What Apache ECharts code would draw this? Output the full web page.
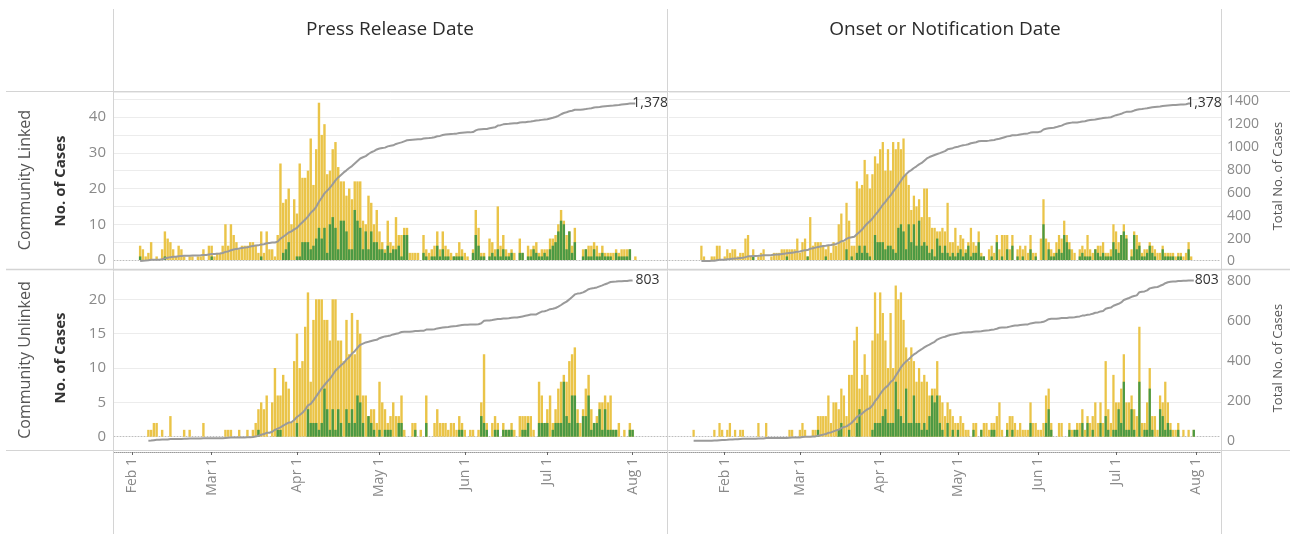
<!DOCTYPE html>
<html>
<head>
<meta charset="utf-8">
<script src="https://cdn.jsdelivr.net/npm/echarts@6/dist/echarts.min.js"></script>
<style>html,body{margin:0;padding:0;background:#fff}#chart{width:1290px;height:534px}</style>
</head>
<body>
<div id="chart"></div>
<script>
// ---------- text ----------
const COLUMN_TITLES = ['Press Release Date', 'Onset or Notification Date'];
const ROW_TITLES = ['Community Linked', 'Community Unlinked'];
const LEFT_AXIS_TITLE = 'No. of Cases';
const RIGHT_AXIS_TITLE = 'Total No. of Cases';
const TOTAL_LABELS = ['1,378', '803'];
const MONTHS = ['Jan', 'Feb', 'Mar', 'Apr', 'May', 'Jun', 'Jul', 'Aug', 'Sep', 'Oct', 'Nov', 'Dec'];

// ---------- date axes (first / last day shown on each column's axis) ----------
const PRESS_AXIS_RANGE = ['2020-01-26', '2020-08-13'];
const ONSET_AXIS_RANGE = ['2020-01-11', '2020-08-10'];

// ---------- Community Linked, by press release date (daily cases, first day 2020-02-04) ----------
const LINKED_PRESS_START = '2020-02-04';
const LINKED_PRESS_ALL = [
  4,3,1,2,5,0,1,0,3,8, 6,5,3,1,4,3,1,0,1,1, 0,1,1,3,0,4,4,1,2,2, 4,10,4,10,7,5,3,4,4,4,
  5,5,4,2,8,2,8,3,3,1, 7,27,16,17,20,10,17,13,27,23, 23,25,34,21,31,44,35,38,24,25,
  31,33,26,22,22,18,20,17,22,22, 22,11,10,18,16,10,14,8,5,3, 11,5,4,12,7,7,9,9,2,2,
  2,2,0,7,3,2,3,4,8,3, 8,4,3,2,1,2,5,3,2,1, 0,3,14,9,2,2,0,6,5,3, 15,4,7,3,2,3,2,0,6,2,
  0,4,3,4,5,2,3,3,3,6, 6,7,10,14,11,7,8,4,9,0, 0,3,3,4,4,5,4,2,4,2, 2,2,2,3,2,3,3,3,3,0,1
];
const LINKED_PRESS_GREEN = [
  1,0,0,0,0,0,0,0,0,1, 0,0,0,0,0,0,0,0,0,0, 0,0,0,0,0,0,1,0,0,0, 0,0,0,0,0,0,0,0,0,0,
  0,0,0,0,1,0,0,0,0,0, 0,0,2,3,5,0,0,1,1,5, 5,5,3,4,6,9,6,9,2,10,
  12,9,3,11,11,8,3,3,14,11, 9,3,8,3,8,5,5,3,3,2, 4,2,3,3,4,1,7,7,0,0,
  0,0,0,2,1,0,1,1,4,1, 3,1,1,0,1,1,1,1,0,0, 0,2,7,4,1,1,0,1,2,1, 3,1,3,1,1,2,0,0,2,2,
  0,1,1,3,2,1,1,2,1,3, 4,5,8,11,10,3,8,2,5,0, 0,1,3,1,1,3,1,1,2,1, 1,1,0,2,1,1,1,1,3,0,0
];

// ---------- Community Linked, by onset / notification date (first day 2020-01-23) ----------
const LINKED_ONSET_START = '2020-01-23';
const LINKED_ONSET_ALL = [
  4,1,0,0,1,1,4,4,0,1, 3,2,3,3,1,2,2,6,7,1, 3,0,1,2,3,0,0,1,2,2, 2,3,3,3,3,3,3,6,2,5,
  6,1,12,4,5,5,5,4,3,4, 2,5,4,10,13,5,16,11,4,4, 22,20,21,28,24,20,24,29,27,31,
  33,25,31,25,33,31,33,31,34,24, 21,14,18,15,17,12,20,20,12,9, 9,8,8,9,8,16,5,5,9,4,
  7,6,3,5,9,5,4,8,2,1, 0,3,4,2,7,3,7,7,7,3, 7,0,3,4,3,4,2,7,2,2, 0,6,17,6,5,3,2,5,7,6,
  11,7,5,3,2,0,3,4,3,7, 3,2,3,4,4,5,2,2,3,10, 8,5,7,10,7,0,3,8,7,5, 2,3,3,5,4,3,2,2,4,2,
  2,2,2,1,2,2,1,2,5,1
];
const LINKED_ONSET_GREEN = [
  0,0,0,0,0,0,0,0,0,0, 0,0,0,0,0,0,0,0,0,0, 1,0,0,0,0,0,0,0,0,0, 0,0,0,1,0,0,0,0,0,0,
  0,1,0,0,0,0,0,0,1,0, 0,0,0,0,0,0,3,0,1,0, 2,4,2,4,2,1,0,7,5,5,
  5,3,4,4,3,2,9,10,8,3, 10,5,10,4,11,4,5,4,2,3, 1,6,4,2,4,2,1,2,1,2,
  3,1,2,4,1,2,2,5,1,1, 0,0,1,0,5,0,1,0,3,0, 4,0,1,0,1,0,0,3,0,1, 0,0,10,0,3,1,1,2,3,2,
  7,5,3,0,0,0,1,2,1,1, 1,0,3,2,1,2,1,1,1,5, 3,2,7,8,6,0,1,7,3,4, 1,1,2,4,2,1,0,0,3,1,
  1,1,1,0,1,1,0,0,3,0
];

// ---------- Community Unlinked, by press release date (first day 2020-02-07) ----------
const UNLINKED_PRESS_START = '2020-02-07';
const UNLINKED_PRESS_ALL = [
  1,1,2,2,0,1,0,0,3,0, 0,0,0,1,0,1,0,0,0,0, 2,0,0,0,0,0,0,0,1,1, 1,0,0,1,0,0,1,0,1,2,
  4,5,4,6,0,5,10,6,6,9, 8,7,2,11,15,10,11,16,21,8, 17,20,20,20,17,17,14,20,20,14,
  14,11,17,12,18,12,17,15,6,6, 3,4,4,2,8,5,4,2,3,5, 3,3,6,1,0,0,2,2,0,1,
  0,6,0,0,2,4,2,2,2,1, 2,2,1,3,2,1,0,1,1,0, 1,5,12,2,0,2,3,2,0,2, 1,1,2,1,0,3,3,3,3,3,
  1,0,8,6,2,4,6,2,4,7, 8,9,8,11,12,13,4,2,4,7, 9,4,2,3,5,5,6,5,6,1, 1,2,0,1,0,2,1
];
const UNLINKED_PRESS_GREEN = [
  0,0,0,0,0,0,0,0,0,0, 0,0,0,0,0,0,0,0,0,0, 0,0,0,0,0,0,0,0,0,0, 0,0,0,0,0,0,0,0,0,0,
  1,0,0,0,0,0,0,1,1,0, 0,0,0,0,2,0,0,0,4,2, 2,2,1,2,7,4,1,4,1,4,
  2,0,4,2,4,2,6,5,2,0, 3,2,1,0,1,0,1,1,1,0, 0,2,2,0,0,0,0,1,0,0,
  0,2,0,0,0,0,0,0,0,0, 0,0,0,1,1,0,0,0,0,0, 0,3,2,1,0,0,1,1,0,1, 1,1,1,0,0,0,1,1,2,0,
  0,0,2,2,2,2,0,1,2,2, 2,8,3,2,6,6,2,0,3,3, 6,1,2,2,4,1,4,1,1,1, 1,0,0,0,0,1,1
];

// ---------- Community Unlinked, by onset / notification date (first day 2020-01-20) ----------
const UNLINKED_ONSET_START = '2020-01-20';
const UNLINKED_ONSET_ALL = [
  1,0,0,0,0,0,0,0,1,0, 2,1,0,1,2,0,1,0,1,1, 0,0,0,0,0,2,0,0,2,0, 0,0,0,0,0,0,0,1,1,0,
  0,1,2,1,0,0,1,1,3,3, 3,3,6,2,5,5,4,7,6,3, 9,9,14,16,7,9,12,9,6,14,
  21,15,21,18,14,10,18,10,22,20, 21,17,13,11,13,11,8,10,8,9, 8,6,7,7,11,6,5,3,5,4,
  3,2,2,3,2,1,1,0,2,2, 0,1,2,2,1,2,2,3,5,1, 0,2,3,3,2,1,2,1,1,1, 5,2,2,1,1,2,6,7,2,0,
  0,2,2,0,0,2,1,1,2,2, 4,1,3,2,3,5,2,5,2,11, 4,2,9,5,5,7,12,5,5,6, 4,3,16,2,2,5,10,3,3,1,
  6,5,8,5,2,1,1,2,0,1, 0,1,0,1
];
const UNLINKED_ONSET_GREEN = [
  0,0,0,0,0,0,0,0,0,0, 0,0,0,0,0,0,0,0,0,0, 0,0,0,0,0,0,0,0,0,0, 0,0,0,0,0,0,0,0,0,0,
  0,0,0,0,0,0,0,0,1,0, 0,0,0,0,0,0,1,2,0,0, 1,0,0,2,4,0,0,0,0,1,
  2,2,2,3,4,2,2,2,8,4, 3,2,7,2,2,6,2,2,1,2, 1,3,6,5,6,2,1,0,2,0,
  1,0,1,0,0,0,0,0,1,0, 0,1,0,0,0,1,1,0,0,0, 0,1,0,1,0,0,0,0,0,0, 2,0,0,0,0,0,2,4,1,0,
  0,0,0,0,0,1,0,1,1,0, 2,0,2,0,1,0,0,2,0,3, 1,0,1,1,4,2,8,1,1,4, 1,0,8,0,1,1,7,1,0,0,
  4,3,1,2,1,0,0,1,0,0, 0,0,0,1
];

// ---------- axis scales ----------
const BAR_AXIS_MAX = [47, 24.26];
const BAR_AXIS_STEP = [5, 5];
const BAR_LABEL_STEP = [10, 5];
const BAR_LABEL_TOP = [40, 20];
const TOTAL_AXIS_MAX = [1478, 855];
const TOTAL_AXIS_STEP = [200, 200];

// ---------- helpers ----------
const DAY = 86400000;
function dayList(range) {
  const out = [];
  for (let t = Date.parse(range[0]); t <= Date.parse(range[1]); t += DAY) {
    out.push(new Date(t).toISOString().slice(0, 10));
  }
  return out;
}
function offsetOf(start, range) { return Math.round((Date.parse(start) - Date.parse(range[0])) / DAY); }
function placeBars(values, start, range, n) {
  const out = new Array(n).fill(null);
  const off = offsetOf(start, range);
  values.forEach((v, i) => { out[off + i] = v; });
  return out;
}
function placeRunning(values, start, range) {
  const off = offsetOf(start, range);
  const out = new Array(off).fill(null);
  let s = 0;
  values.forEach(v => { s += v; out.push(s); });
  return out;
}
function dateLabel(v) { const d = new Date(Date.parse(v)); return MONTHS[d.getUTCMonth()] + ' ' + d.getUTCDate(); }
function isMonthStart(i, v) { return v.slice(8) === '01'; }

// ---------- layout ----------
const FONT = 'Open Sans';
const COLS = [
  { left: 114, width: 553, range: PRESS_AXIS_RANGE },
  { left: 669, width: 552, range: ONSET_AXIS_RANGE }
];
const ROWS = [
  { top: 92, barBottom: 260, lineBottom: 261.5 },
  { top: 270, barBottom: 436.7, lineBottom: 441 }
];
const PANELS = [
  { r: 0, c: 0, start: LINKED_PRESS_START, all: LINKED_PRESS_ALL, green: LINKED_PRESS_GREEN, labelShift: -4 },
  { r: 0, c: 1, start: LINKED_ONSET_START, all: LINKED_ONSET_ALL, green: LINKED_ONSET_GREEN, labelShift: -6 },
  { r: 1, c: 0, start: UNLINKED_PRESS_START, all: UNLINKED_PRESS_ALL, green: UNLINKED_PRESS_GREEN, labelShift: 2 },
  { r: 1, c: 1, start: UNLINKED_ONSET_START, all: UNLINKED_ONSET_ALL, green: UNLINKED_ONSET_GREEN, labelShift: 0 }
];

const YELLOW = '#EAC448';
const GREEN = '#4B9943';
const LINE_GRAY = '#9a9a9a';
const LABEL_GRAY = '#8a8a8a';

const grid = [], xAxis = [], yAxis = [], series = [];
PANELS.forEach((p, i) => {
  const col = COLS[p.c], row = ROWS[p.r];
  const cats = dayList(col.range);
  grid[i] = { left: col.left, width: col.width, top: row.top, height: row.barBottom - row.top };
  grid[i + 4] = { left: col.left, width: col.width, top: row.top, height: row.lineBottom - row.top };
  xAxis[i] = {
    type: 'category', gridIndex: i, data: cats, boundaryGap: true,
    axisLine: { show: true, onZero: false, lineStyle: { color: '#bdbdbd', type: [1, 2], width: 1 } },
    axisTick: { show: false }, axisLabel: { show: false }, splitLine: { show: false }
  };
  const isBottom = p.r === 1;
  xAxis[i + 4] = {
    type: 'category', gridIndex: i + 4, data: cats, boundaryGap: true, show: isBottom,
    position: 'bottom', offset: 452 - row.lineBottom,
    axisLine: { show: true, onZero: false, lineStyle: { color: '#9a9a9a', type: [1, 1], width: 1 } },
    axisTick: { show: true, interval: isMonthStart, alignWithLabel: true, length: 3, lineStyle: { color: '#666' } },
    axisLabel: { show: true, interval: isMonthStart, rotate: 90, formatter: dateLabel, color: LABEL_GRAY, fontSize: 14, fontFamily: FONT, margin: 6 },
    splitLine: { show: false }
  };
  yAxis[i] = {
    type: 'value', gridIndex: i, min: 0, max: BAR_AXIS_MAX[p.r], interval: BAR_AXIS_STEP[p.r], position: 'left',
    axisLine: { show: false }, axisTick: { show: false },
    axisLabel: {
      show: p.c === 0, color: LABEL_GRAY, fontSize: 15, fontFamily: FONT, margin: 8,
      formatter: v => (Math.abs(v % BAR_LABEL_STEP[p.r]) < 1e-9 && v <= BAR_LABEL_TOP[p.r]) ? String(v) : ''
    },
    splitLine: { show: true, showMinLine: false, lineStyle: { color: '#ececec', width: 1 } }
  };
  yAxis[i + 4] = {
    type: 'value', gridIndex: i + 4, min: 0, max: TOTAL_AXIS_MAX[p.r], interval: TOTAL_AXIS_STEP[p.r], position: 'right',
    show: p.c === 1,
    axisLine: { show: false }, axisTick: { show: false },
    axisLabel: {
      color: LABEL_GRAY, fontSize: 14, fontFamily: FONT, margin: 6,
      formatter: v => (Math.abs(v % TOTAL_AXIS_STEP[p.r]) < 1e-9) ? String(v) : ''
    },
    splitLine: { show: false }
  };
  series.push({
    type: 'bar', xAxisIndex: i, yAxisIndex: i, barWidth: '88%', barGap: '-100%', z: 2,
    itemStyle: { color: YELLOW }, data: placeBars(p.all, p.start, col.range, cats.length), silent: true
  });
  series.push({
    type: 'bar', xAxisIndex: i, yAxisIndex: i, barWidth: '88%', barGap: '-100%', z: 3,
    itemStyle: { color: GREEN }, data: placeBars(p.green, p.start, col.range, cats.length), silent: true
  });
  series.push({
    type: 'line', xAxisIndex: i + 4, yAxisIndex: i + 4, z: 4, showSymbol: false, symbol: 'none',
    lineStyle: { color: LINE_GRAY, width: 2 }, data: placeRunning(p.all, p.start, col.range), silent: true,
    endLabel: { show: true, formatter: () => TOTAL_LABELS[p.r], color: '#333', fontSize: 14, fontFamily: FONT, distance: 1, offset: [p.labelShift, 0] }
  });
});

// ---------- frame and headers ----------
const FRAME = '#d4d4d4';
function hline(y, w) { return { type: 'line', silent: true, shape: { x1: 6, y1: y, x2: 1290, y2: y }, style: { stroke: FRAME, lineWidth: w || 1 }, z: 10 }; }
function vline(x) { return { type: 'line', silent: true, shape: { x1: x, y1: 9, x2: x, y2: 534 }, style: { stroke: FRAME, lineWidth: 1 }, z: 10 }; }
function text(t, x, y, opts) {
  return { type: 'text', silent: true, x: x, y: y, rotation: opts.rot || 0, z: 11,
    style: { text: t, fill: opts.color, font: (opts.weight || 'normal') + ' ' + opts.size + 'px "' + FONT + '"', align: 'center', verticalAlign: 'middle' } };
}
const graphic = [
  hline(91.5), hline(269.5, 1.5), hline(450.5),
  vline(113.5), vline(667.5), vline(1221.5),
  text(COLUMN_TITLES[0], 390, 30, { size: 19, color: '#2b2b2b' }),
  text(COLUMN_TITLES[1], 945, 30, { size: 19, color: '#2b2b2b' }),
  text(ROW_TITLES[0], 25, 180, { size: 16, color: '#555', rot: Math.PI / 2 }),
  text(ROW_TITLES[1], 25, 360, { size: 16, color: '#555', rot: Math.PI / 2 }),
  text(LEFT_AXIS_TITLE, 61, 181, { size: 15, color: '#333', weight: 'bold', rot: Math.PI / 2 }),
  text(LEFT_AXIS_TITLE, 61, 358, { size: 15, color: '#333', weight: 'bold', rot: Math.PI / 2 }),
  text(RIGHT_AXIS_TITLE, 1278, 176, { size: 13, color: '#555', rot: Math.PI / 2 }),
  text(RIGHT_AXIS_TITLE, 1278, 358, { size: 13, color: '#555', rot: Math.PI / 2 })
];

const chart = echarts.init(document.getElementById('chart'), null, { renderer: 'canvas' });
chart.setOption({
  animation: false,
  backgroundColor: '#ffffff',
  textStyle: { fontFamily: FONT },
  grid, xAxis, yAxis, series, graphic
});
</script>
</body>
</html>
